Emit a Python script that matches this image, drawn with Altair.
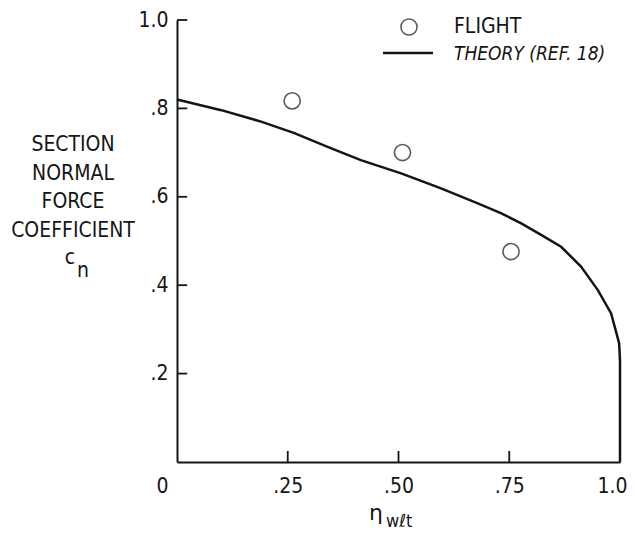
import altair as alt
import pandas as pd

# ---- data ----
theory_x = [0.0, 0.10, 0.19, 0.265, 0.34, 0.415, 0.506, 0.596, 0.679, 0.731, 0.777,
            0.822, 0.867, 0.912, 0.950, 0.980, 0.998, 1.0, 1.0]
theory_y = [0.82, 0.796, 0.770, 0.744, 0.713, 0.683, 0.653, 0.619, 0.585, 0.563, 0.540,
            0.514, 0.487, 0.442, 0.389, 0.336, 0.269, 0.23, 0.0]
flight_x = [0.26, 0.509, 0.754]
flight_y = [0.817, 0.70, 0.476]

x_ticks = [0, 0.25, 0.5, 0.75, 1.0]
x_tick_labels = ["0", ".25", ".50", ".75", "1.0"]
y_ticks = [0.2, 0.4, 0.6, 0.8, 1.0]
y_tick_labels = [".2", ".4", ".6", ".8", "1.0"]
x_inner_ticks = [0.25, 0.5, 0.75]
y_inner_ticks = [0.2, 0.4, 0.6, 0.8, 1.0]
y_title_lines = ["SECTION", "NORMAL", "FORCE", "COEFFICIENT"]
legend_labels = ["FLIGHT", "THEORY (REF. 18)"]

FONT = "DejaVu Sans Condensed, DejaVu Sans, sans-serif"
INK = "#151515"

def label_expr(vals, labs):
    parts = [f"datum.value == {v} ? '{l}'" for v, l in zip(vals, labs)]
    return " : ".join(parts) + " : ''"

theory = pd.DataFrame({"x": theory_x, "y": theory_y, "i": list(range(len(theory_x)))})
flight = pd.DataFrame({"x": flight_x, "y": flight_y})
xt = pd.DataFrame({"x": x_inner_ticks})
yt = pd.DataFrame({"y": y_inner_ticks})
one = pd.DataFrame({"k": [0]})

xscale = alt.Scale(domain=[0, 1], nice=False, zero=False)
yscale = alt.Scale(domain=[0, 1], nice=False, zero=False)

xaxis = alt.Axis(values=x_ticks, labelExpr=label_expr(x_ticks, x_tick_labels), ticks=False,
                 grid=False, title=None, domainColor=INK, domainWidth=2,
                 labelFont=FONT, labelFontSize=21, labelColor=INK, labelPadding=13,
                 labelAlign={"expr": "datum.value == 0 ? 'right' : (datum.value == 1 ? 'right' : 'center')"},
                 labelOffset={"expr": "datum.value == 0 ? -9 : (datum.value == 1 ? 7 : 0)"},
                 labelOverlap=False)
yaxis = alt.Axis(values=y_ticks, labelExpr=label_expr(y_ticks, y_tick_labels), ticks=False,
                 grid=False, title=None, domainColor=INK, domainWidth=2,
                 labelFont=FONT, labelFontSize=21, labelColor=INK, labelPadding=9,
                 labelOverlap=False)

line = alt.Chart(theory).mark_line(color=INK, strokeWidth=2.5).encode(
    x=alt.X("x:Q", scale=xscale, axis=xaxis),
    y=alt.Y("y:Q", scale=yscale, axis=yaxis),
    order="i:Q",
)

points = alt.Chart(flight).mark_point(shape="circle", size=260, filled=False,
                                       color=INK, strokeWidth=1.6).encode(
    x=alt.X("x:Q", scale=xscale), y=alt.Y("y:Q", scale=yscale))

xticks = alt.Chart(xt).mark_rule(color=INK, strokeWidth=1.8).encode(
    x=alt.X("x:Q", scale=xscale), y=alt.datum(0, scale=yscale), y2=alt.datum(0.025))
yticks = alt.Chart(yt).mark_rule(color=INK, strokeWidth=1.8).encode(
    y=alt.Y("y:Q", scale=yscale), x=alt.datum(0, scale=xscale), x2=alt.datum(0.023))

ytitle = alt.Chart(one).mark_text(text=y_title_lines, font=FONT, fontSize=21, color=INK,
                                  align="center", baseline="middle", lineHeight=28.5).encode(
    x=alt.value(-104), y=alt.value(125))
c_lbl = alt.Chart(one).mark_text(text="c", font=FONT, fontSize=21, color=INK,
                                 align="center", baseline="middle").encode(
    x=alt.value(-107), y=alt.value(238))
n_lbl = alt.Chart(one).mark_text(text="n", font=FONT, fontSize=21, color=INK,
                                 align="center", baseline="middle").encode(
    x=alt.value(-94), y=alt.value(251))

eta = alt.Chart(one).mark_text(text="η", font="DejaVu Sans", fontSize=22, color=INK,
                               align="center", baseline="middle").encode(
    x=alt.value(199), y=alt.value(493))
eta_sub = alt.Chart(one).mark_text(text="wℓt", font=FONT, fontSize=18, color=INK,
                                   align="left", baseline="middle").encode(
    x=alt.value(209), y=alt.value(502))

leg_pt = alt.Chart(one).mark_point(shape="circle", size=260, filled=False, color=INK,
                                   strokeWidth=1.6).encode(x=alt.value(232), y=alt.value(7))
leg_t1 = alt.Chart(one).mark_text(text=legend_labels[0], font=FONT, fontSize=21, color=INK,
                                  align="left", baseline="middle").encode(
    x=alt.value(277), y=alt.value(7))
leg_ln = alt.Chart(one).mark_rule(color=INK, strokeWidth=2.5).encode(
    x=alt.value(206), x2=alt.value(256), y=alt.value(33))
leg_t2 = alt.Chart(one).mark_text(text=legend_labels[1], font=FONT, fontSize=19, color=INK,
                                  fontStyle="italic", align="left", baseline="middle").encode(
    x=alt.value(277), y=alt.value(34))

chart = alt.layer(
    line, points, xticks, yticks, ytitle, c_lbl, n_lbl, eta, eta_sub,
    leg_pt, leg_t1, leg_ln, leg_t2
).properties(
    width=443, height=442,
    autosize=alt.AutoSizeParams(type="none"),
    padding={"left": 169, "top": 12, "right": 8, "bottom": 71},
    background="white",
).configure_view(stroke=None)

chart.save("out.html", embed_options={"renderer": "svg", "actions": False})
